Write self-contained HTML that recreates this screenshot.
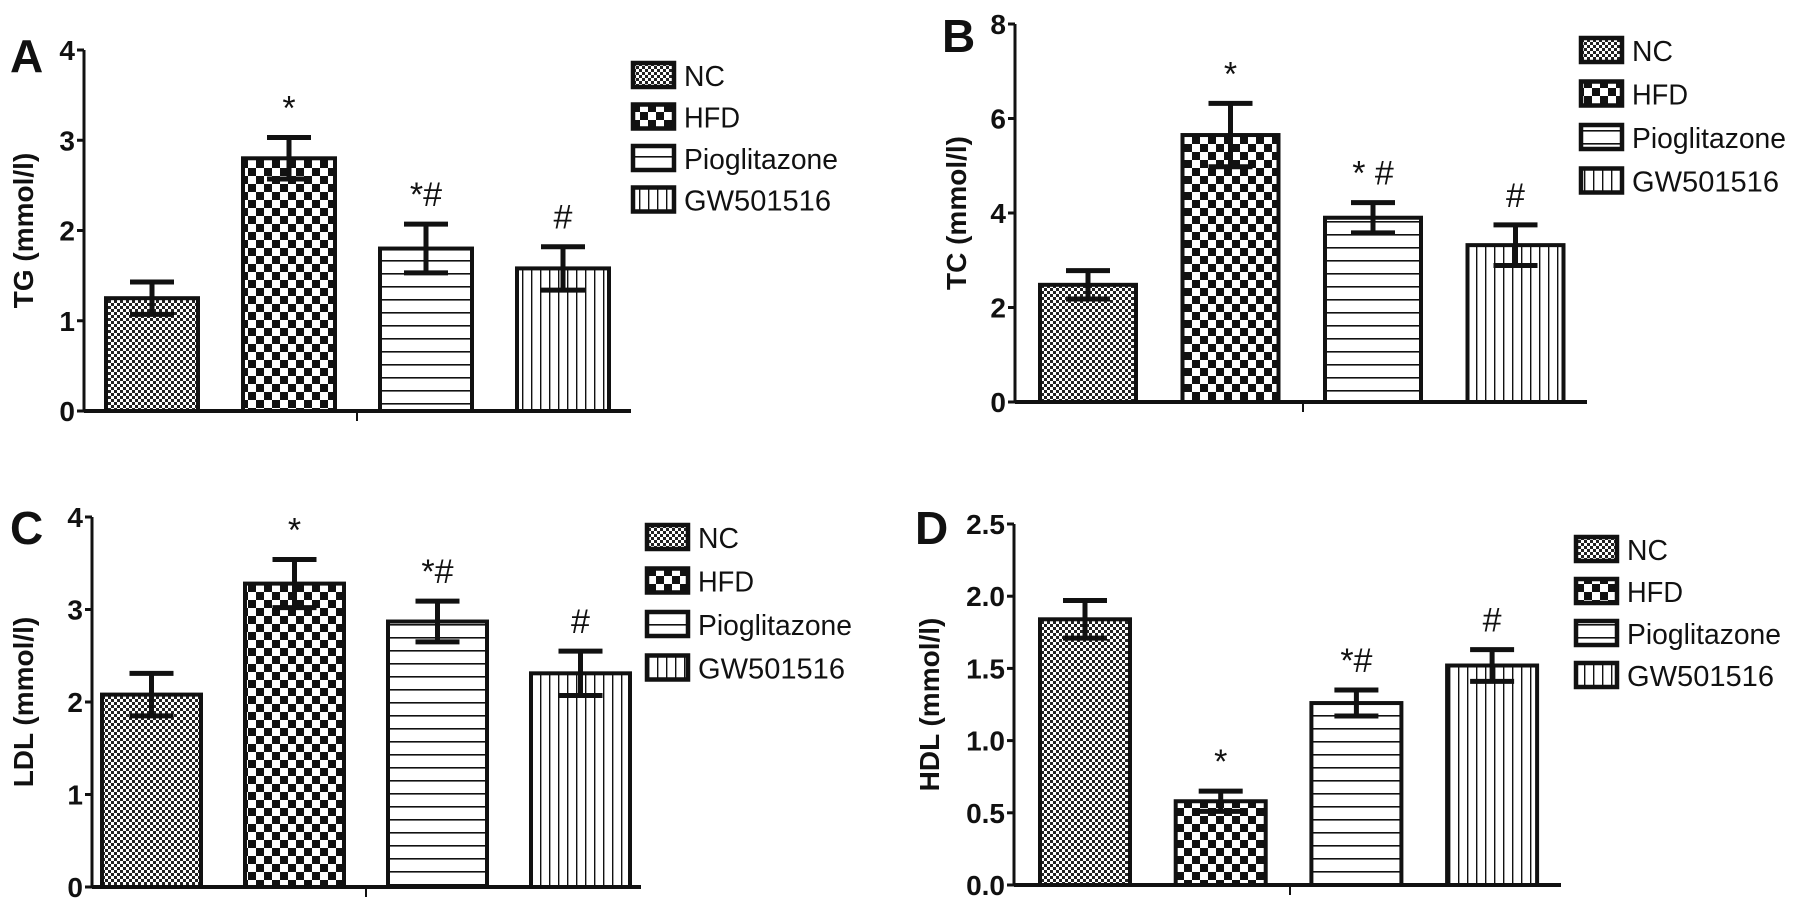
<!DOCTYPE html>
<html><head><meta charset="utf-8"><style>
html,body{margin:0;padding:0;background:#fff;}
svg{display:block;font-family:"Liberation Sans",Arial,sans-serif;}
</style></head><body>
<svg id="chart" width="1795" height="908" viewBox="0 0 1795 908" xmlns="http://www.w3.org/2000/svg">
<defs>
<pattern id="pNC" width="6" height="6" patternUnits="userSpaceOnUse"><rect width="6" height="6" fill="#fff"/><rect width="3" height="3" fill="#222"/><rect x="3" y="3" width="3" height="3" fill="#222"/></pattern>
<pattern id="pHFD" width="16" height="16" patternUnits="userSpaceOnUse"><rect width="16" height="16" fill="#fff"/><rect width="8" height="8" fill="#111"/><rect x="8" y="8" width="8" height="8" fill="#111"/></pattern>
<pattern id="pPIO" width="10" height="13" patternUnits="userSpaceOnUse"><rect width="10" height="13" fill="#fff"/><rect y="0" width="10" height="1.6" fill="#111"/></pattern>
<pattern id="pGW" width="9" height="10" patternUnits="userSpaceOnUse"><rect width="9" height="10" fill="#fff"/><rect x="0" width="1.4" height="10" fill="#111"/></pattern>
</defs>
</svg>
<script>
const groups = ["NC","HFD","Pioglitazone","GW501516"];
const tgValues = [1.25, 2.8, 1.8, 1.58];
const tgErr = [0.18, 0.23, 0.27, 0.24];
const tcValues = [2.48, 5.65, 3.9, 3.32];
const tcErr = [0.3, 0.67, 0.32, 0.43];
const ldlValues = [2.08, 3.28, 2.87, 2.31];
const ldlErr = [0.23, 0.26, 0.22, 0.24];
const hdlValues = [1.84, 0.58, 1.26, 1.52];
const hdlErr = [0.13, 0.07, 0.09, 0.11];
const tgTicks = ["0","1","2","3","4"];
const tcTicks = ["0","2","4","6","8"];
const ldlTicks = ["0","1","2","3","4"];
const hdlTicks = ["0.0","0.5","1.0","1.5","2.0","2.5"];
const tgMarks = ["","*","*#","#"];
const tcMarks = ["","*","* #","#"];
const ldlMarks = ["","*","*#","#"];
const hdlMarks = ["","*","*#","#"];

const NS="http://www.w3.org/2000/svg";
const svg=document.getElementById('chart');
const fills=["url(#pNC)","url(#pHFD)","url(#pPIO)","url(#pGW)"];
const legendWidths=[41,56,154,147];
function mk(tag,attrs,parent){const e=document.createElementNS(NS,tag);for(const k in attrs)e.setAttribute(k,attrs[k]);(parent||svg).appendChild(e);return e;}

function panel(cfg){
  const g=mk('g',{});
  
  
  const ymax=parseFloat(cfg.ticks[cfg.ticks.length-1]);
  const Y=v=>cfg.y0-(v/ymax)*(cfg.y0-cfg.yTop);
  const X=i=>cfg.bx0+i*cfg.step;
  const lab=mk('text',{x:cfg.lx,y:cfg.ly,'font-size':46,'font-weight':'bold',fill:'#111'},g);
  lab.textContent=cfg.id.toUpperCase();
  
  
  cfg.ticks.forEach(t=>{
    const y=Y(parseFloat(t));
    const tl=mk('line',{x1:cfg.ax-7,x2:cfg.ax,y1:y,y2:y,stroke:'#111','stroke-width':3},g);
    
    
    const tx=mk('text',{x:cfg.ax-9,y:y+10,'font-size':28,'font-weight':'bold','text-anchor':'end',fill:'#111'},g);
    tx.textContent=t;
    
    
  });
  const ttl=mk('text',{x:0,y:0,'font-size':28,'font-weight':'bold','text-anchor':'middle',fill:'#111',transform:`translate(${cfg.tx},${(cfg.y0+cfg.yTop)/2}) rotate(-90)`},g);
  ttl.textContent=cfg.title;
  
  
  cfg.values.forEach((v,i)=>{
    const x=X(i);
    const b=mk('rect',{x:x,y:Y(v),width:cfg.bw,height:cfg.y0-Y(v),fill:fills[i],stroke:'#111','stroke-width':4},g);
    
    
    const cx=x+cfg.bw/2, e=cfg.err[i];
    const eb=mk('path',{d:`M${cx},${Y(v+e)}V${Y(v-e)}M${cx-22},${Y(v+e)}H${cx+22}M${cx-22},${Y(v-e)}H${cx+22}`,stroke:'#111','stroke-width':5,fill:'none'},g);
    
    
    if(cfg.marks[i]){
      const m=mk('text',{x:cx,y:Y(v+e)-18,'font-size':34,'text-anchor':'middle',fill:'#111'},g);
      m.textContent=cfg.marks[i];
      
      
    }
  });
  const ya=mk('line',{x1:cfg.ax,x2:cfg.ax,y1:cfg.yTop,y2:cfg.y0+1.5,stroke:'#111','stroke-width':3},g);
  
  
  const xa=mk('line',{x1:cfg.ax,x2:cfg.xEnd,y1:cfg.y0,y2:cfg.y0,stroke:'#111','stroke-width':4},g);
  
  
  const xt=mk('line',{x1:cfg.xt,x2:cfg.xt,y1:cfg.y0,y2:cfg.y0+10,stroke:'#111','stroke-width':2},g);
  
  
  groups.forEach((n,i)=>{
    const y=cfg.legY+i*cfg.legStep;
    const lg=mk('g',{},g);
    
    
    mk('rect',{x:cfg.legX,y:y-12,width:41,height:24,fill:fills[i],stroke:'#111','stroke-width':4.5},lg);
    const t=mk('text',{x:cfg.legX+51,y:y+11,'font-size':29,fill:'#111',textLength:legendWidths[i],lengthAdjust:'spacingAndGlyphs'},lg);
    t.textContent=n;
  });
}

panel({id:'a',title:'TG (mmol/l)',values:tgValues,err:tgErr,ticks:tgTicks,marks:tgMarks,ax:84,yTop:50,y0:411,xEnd:631,bx0:106,step:137,bw:92,xt:357,tx:33,lx:10,ly:72,legX:633,legY:75,legStep:41.5});
panel({id:'b',title:'TC (mmol/l)',values:tcValues,err:tcErr,ticks:tcTicks,marks:tcMarks,ax:1015,yTop:24,y0:402,xEnd:1587,bx0:1040,step:142.5,bw:96,xt:1303,tx:966,lx:942,ly:52,legX:1581,legY:50,legStep:43.5});
panel({id:'c',title:'LDL (mmol/l)',values:ldlValues,err:ldlErr,ticks:ldlTicks,marks:ldlMarks,ax:92,yTop:517,y0:887,xEnd:641,bx0:102,step:143,bw:99,xt:366,tx:33,lx:10,ly:544,legX:647,legY:537,legStep:43.5});
panel({id:'d',title:'HDL (mmol/l)',values:hdlValues,err:hdlErr,ticks:hdlTicks,marks:hdlMarks,ax:1014,yTop:524,y0:885,xEnd:1561,bx0:1040,step:135.7,bw:90,xt:1290,tx:939,lx:915,ly:544,legX:1576,legY:549,legStep:42});
</script>
</body></html>
